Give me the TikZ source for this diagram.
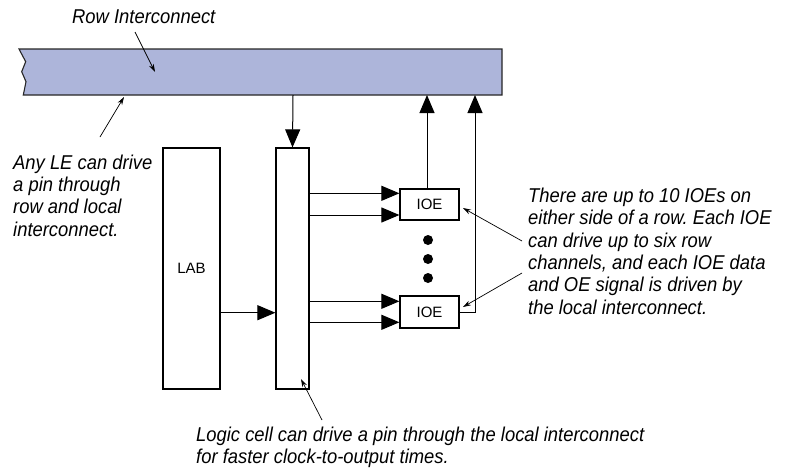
\documentclass[tikz,border=0pt]{standalone}
\usepackage{fontspec}
\setmainfont{Liberation Sans}
\newfontfamily\notefont{Liberation Sans}[FakeStretch=0.92]
\usetikzlibrary{arrows.meta,calc}
\definecolor{barblue}{HTML}{ADB5DA}
\frenchspacing
\begin{document}
\begin{tikzpicture}[x=1pt,y=-1pt,
  box/.style={draw,line width=1.2pt,fill=white,inner sep=0pt},
  big/.style={-{Triangle[length=18pt,width=15pt]},line width=1pt},
  ptr/.style={-{Stealth[length=8pt,width=5pt]},line width=0.7pt},
  note/.style={font=\notefont\itshape\fontsize{20}{22.3}\selectfont,align=left,inner sep=0pt,anchor=base west},
  lbl/.style={font=\fontsize{15}{18}\selectfont}]
\useasboundingbox (0,0) rectangle (786,472);
% row interconnect bar
\filldraw[fill=barblue,draw=black!85,line width=1.1pt]
  (19,49) -- (502,49) -- (502,95) -- (23.3,95) -- (26,81.7) -- (21.7,71.7) -- (25.7,61.7) -- cycle;
\coordinate (barA) at (293,95);
\coordinate (barB) at (427,95);
\coordinate (barC) at (475,95);
% boxes
\node[box,lbl,minimum width=57pt,minimum height=241pt] (lab) at (191.5,268.5) {LAB};
\node[box,minimum width=33pt,minimum height=241pt] (loc) at (292.5,268.5) {};
\node[box,lbl,minimum width=59pt,minimum height=31pt] (ioe1) at (429.5,204.5) {IOE};
\node[box,lbl,minimum width=59pt,minimum height=32pt] (ioe2) at (429.5,312) {IOE};
% dots
\foreach \yy in {240,259,278} \fill (428,\yy) circle (5);
% big arrows
\draw[big] (barA) -- (loc.north);
\draw[big] (lab.east |- 0,312.7) -- (loc.west |- 0,312.7);
\draw[big] (loc.east |- 0,193.3) -- (ioe1.west |- 0,193.3);
\draw[big] (loc.east |- 0,215) -- (ioe1.west |- 0,215);
\draw[big] (loc.east |- 0,301.3) -- (ioe2.west |- 0,301.3);
\draw[big] (loc.east |- 0,322.3) -- (ioe2.west |- 0,322.3);
\draw[big] (ioe1.north -| barB) -- (barB);
\draw[big] (ioe2.east |- 0,312.7) -| (barC);
% notes (base anchor = baseline of last line)
\node[note] (nrow) at (72,23) {Row Interconnect};
\node[note] (nle) at (13,236) {Any LE can drive\\a pin through\\row and local\\interconnect.};
\node[note] (nioe) at (528,314) {There are up to 10 IOEs on\\either side of a row. Each IOE\\can drive up to six row\\channels, and each IOE data\\and OE signal is driven by\\the local interconnect.};
\node[note] (nlog) at (196,463.3) {Logic cell can drive a pin through the local interconnect\\for faster clock-to-output times.};
% pointers
\coordinate (p1s) at (135,32); \coordinate (p1e) at (155,72);
\coordinate (p2s) at (100,137); \coordinate (p2e) at (124,97);
\coordinate (p3s) at (322,420); \coordinate (p3e) at (301,379);
\coordinate (p4s) at (522,241); \coordinate (p4e) at (463,208);
\coordinate (p5s) at (522,273); \coordinate (p5e) at (463,307);
\draw[ptr] (p1s) -- (p1e);
\draw[ptr] (p2s) -- (p2e);
\draw[ptr] (p3s) -- (p3e);
\draw[ptr] (p4s) -- (p4e);
\draw[ptr] (p5s) -- (p5e);
\end{tikzpicture}
\end{document}
